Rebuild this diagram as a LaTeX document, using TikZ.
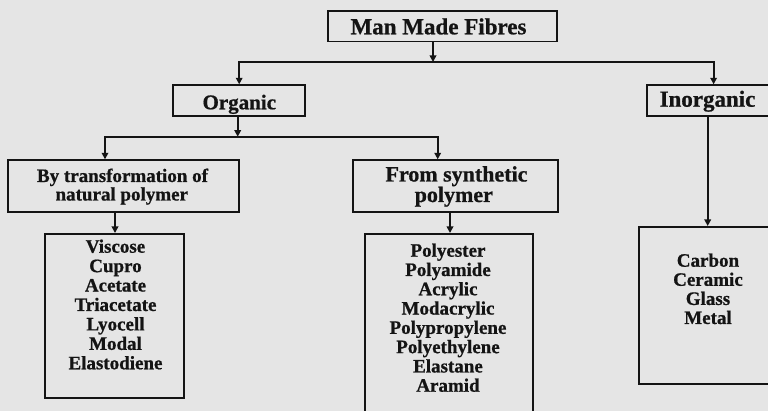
\documentclass[tikz,border=0pt]{standalone}
\usepackage{fontspec}
\setmainfont{Liberation Serif}[BoldFeatures={FakeBold=0.8}]
\usetikzlibrary{arrows.meta}
\definecolor{bg}{RGB}{229,229,229}
\definecolor{ink}{RGB}{20,20,20}
\tikzset{
  box/.style={draw=ink, line width=1.8pt, fill=bg, inner sep=0pt, anchor=north west},
  arr/.style={draw=ink, line width=1.8pt, -{Triangle[length=6.5pt,width=6.5pt]}},
  txt/.style={inner sep=0pt, anchor=base, text=ink, font=\bfseries\fontsize{#1}{#1}\selectfont},
  txt/.default=19
}
\begin{document}
\begin{tikzpicture}[x=1pt,y=-1pt]
\useasboundingbox (0,0) rectangle (768,411);
\clip (0,0) rectangle (768,411);
\fill[bg] (0,0) rectangle (768,411);

% boxes
\node[box, minimum width=229pt, minimum height=30.7pt] (mmf) at (327,10) {};
\node[box, minimum width=132pt, minimum height=30.7pt] (org) at (172.3,84.3) {};
\node[box, minimum width=134pt, minimum height=30.7pt] (inorg) at (645.7,84.3) {};
\node[box, minimum width=230.4pt, minimum height=51.7pt] (bytr) at (7.3,159.3) {};
\node[box, minimum width=205pt, minimum height=51.7pt] (synth) at (351.7,159.3) {};
\node[box, minimum width=139pt, minimum height=163.7pt] (lsta) at (44.3,233) {};
\node[box, minimum width=167.7pt, minimum height=200pt] (lstb) at (364,233) {};
\node[box, minimum width=140pt, minimum height=156.7pt] (lstc) at (637.7,226) {};

% headings
\node[txt=23] (tmmf) at (438.5,34.3) {Man Made Fibres};
\node[txt=21] (torg) at (239.3,109.3) {Organic};
\node[txt=23] (tinorg) at (707.5,106.7) {Inorganic};
\node[txt=19] (tby1) at (122.5,182) {By transformation of};
\node[txt=19] (tby2) at (121.8,200.5) {natural polymer};
\node[txt=22] (tsy1) at (456.5,181.5) {From synthetic};
\node[txt=22] (tsy2) at (453.8,202) {polymer};

% lists
\foreach \t [count=\i] in {Viscose,Cupro,Acetate,Triacetate,Lyocell,Modal,Elastodiene}
  \node[txt=19] (la\i) at (115.5,{252.7+19.43*(\i-1)}) {\t};
\foreach \t [count=\i] in {Polyester,Polyamide,Acrylic,Modacrylic,Polypropylene,Polyethylene,Elastane,Aramid}
  \node[txt=19] (lb\i) at (448,{256.7+19.29*(\i-1)}) {\t};
\foreach \t [count=\i] in {Carbon,Ceramic,Glass,Metal}
  \node[txt=19] (lc\i) at (708,{266.7+19.1*(\i-1)}) {\t};

% connectors
\coordinate (j1) at (433,62);
\coordinate (j2) at (237.7,136.7);
\coordinate (e1) at (105,0);
\coordinate (e2) at (437.7,0);
\coordinate (e3) at (115,0);
\coordinate (e4) at (450,0);
\coordinate (e5) at (707.7,0);
\draw[arr] (mmf.south -| j1) -- (j1);
\draw[arr] (j1) -| (org.north);
\draw[arr] (j1) -| (inorg.north);
\draw[arr] (org.south -| j2) -- (j2);
\draw[arr] (j2) -| (bytr.north -| e1);
\draw[arr] (j2) -| (synth.north -| e2);
\draw[arr] (bytr.south -| e3) -- (lsta.north -| e3);
\draw[arr] (synth.south -| e4) -- (lstb.north -| e4);
\draw[arr] (inorg.south -| e5) -- (lstc.north -| e5);
\end{tikzpicture}
\end{document}
